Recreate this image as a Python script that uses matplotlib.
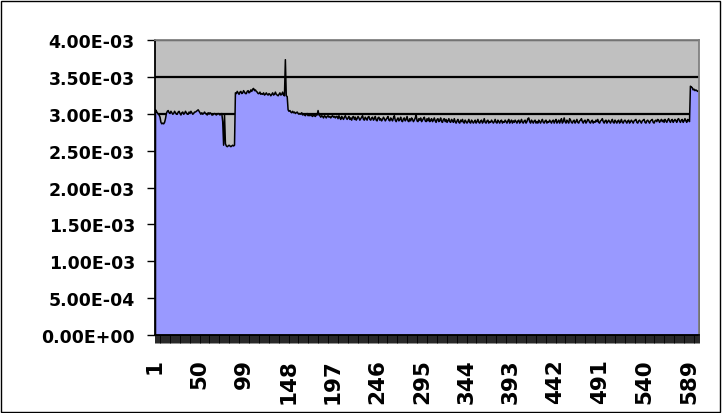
import matplotlib.pyplot as plt
from matplotlib.patches import Rectangle
from matplotlib.ticker import FuncFormatter, FixedLocator

# values in units of 1e-5
rate = [
    306, 304, 302, 300, 299, 296, 289, 287, 288, 287, 289, 294, 301, 304,
    305, 302, 301, 304, 302, 300, 301, 304, 302, 300,
    300, 303, 304, 301, 299, 302, 303, 300, 301, 304,
    302, 300, 300, 303, 301, 304, 302, 300, 301, 303,
    303, 304, 305, 306, 304, 302, 300, 302, 300, 301,
    303, 301, 300, 299, 302, 300, 302, 301, 299, 299,
    300, 301, 300, 299, 300, 301, 300, 299, 300, 301,
    290, 258, 299, 260, 257, 256, 257, 258, 257, 256, 257, 258, 257, 258,
    329, 328, 331, 329, 327, 330, 331, 328, 329, 332,
    330, 328, 328, 331, 332, 329, 330, 333, 331, 334,
    335, 332, 333, 331, 330, 328, 328, 330, 327, 328,
    327, 329, 326, 327, 329, 327, 326, 328, 327, 325,
    327, 329, 326, 327, 330, 327, 326, 325, 327, 329,
    326, 327, 330, 326, 325,
    374, 325, 324,
    306, 304, 305, 303, 302, 304, 302, 303, 301, 302, 303, 301, 300, 301,
    300, 302, 299, 300, 299, 298, 300, 301, 298, 299, 298, 300, 298, 297, 299, 298, 297, 299, 299, 305,
    299, 298, 296, 298, 297, 295, 298, 297, 295, 297, 298, 296, 297, 295, 297, 298, 296, 297, 295, 297,
    297, 294, 298, 295, 293, 297, 295, 293, 296, 298, 295, 293, 295, 297, 293, 295, 292, 296, 297, 293,
    296, 292, 294, 297, 295, 292, 294, 296, 298, 293, 292, 296, 294, 292, 296, 297, 293, 292, 295, 296,
    292, 294, 297, 292, 291, 295, 296, 292, 294, 291, 293, 296, 294, 291, 293, 295, 297, 292, 291, 295,
    293, 291, 295, 298, 292, 290, 293, 295, 291, 293, 296, 291, 290, 294, 295, 291, 293, 297, 291, 290,
    294, 291, 295, 293, 290, 292, 295, 299, 291, 290, 294, 292, 295, 290, 292, 294, 296, 291, 290, 294,
    291, 295, 290, 292, 294, 290, 292, 295, 291, 289, 293, 294, 290, 292, 295, 290, 289, 293, 294, 290,
    293, 289, 291, 294, 290, 289, 293, 291, 289, 294, 290, 288, 291, 293, 289, 288, 292, 290, 293, 289,
    288, 292, 290, 288, 290, 293, 289, 288, 292, 290, 288, 290, 292, 288, 290, 293, 289, 288, 291, 292,
    288, 290, 294, 289, 288, 291, 292, 288, 290, 289, 292, 290, 288, 290, 293, 289, 288, 292, 290, 288,
    291, 292, 288, 290, 289, 292, 290, 288, 291, 293, 288, 290, 292, 288, 291, 289, 292, 290, 288, 291,
    292, 288, 290, 293, 289, 288, 291, 292, 288, 290, 294, 295, 290, 288, 292, 290, 288, 291, 292, 288,
    290, 288, 292, 290, 288, 291, 293, 289, 288, 291, 292, 288, 290, 289, 292, 290, 288, 291, 292, 288,
    291, 293, 288, 290, 292, 288, 291, 294, 288, 290, 295, 290, 288, 292, 290, 288, 294, 292, 289,
    288, 291, 292, 288, 290, 293, 289, 288, 291, 292, 294, 290, 288, 291, 292, 288, 290, 293, 292, 289,
    288, 291, 292, 288, 290, 289, 292, 290, 293, 289, 288, 291, 292, 294, 290, 288, 291, 292, 288, 290,
    292, 290, 288, 291, 293, 289, 288, 292, 290, 288, 291, 292, 288, 290, 293, 289, 288, 291, 292, 290,
    288, 291, 292, 288, 290, 292, 290, 288, 291, 292, 293, 289, 288, 291, 292, 290, 288, 291, 292, 293,
    289, 288, 291, 292, 290, 288, 291, 292, 293, 289, 288, 291, 292, 290, 293, 292, 289, 291, 293, 290,
    292, 289, 293, 291, 289, 292, 294, 291, 289, 292, 293, 289, 291, 293, 291, 289, 293, 294, 291, 289,
    292, 293, 289, 291, 294, 291, 289, 293, 292, 290,
    338, 337, 336, 333, 334, 332, 333, 332, 331, 332, 330,
]
scale = 1e-5
x = list(range(1, len(rate) + 1))
y = [v * scale for v in rate]
label_step = 49
y_ticks = [i * 0.5e-3 for i in range(9)]

fig = plt.figure(figsize=(7.22, 4.14), dpi=100)
ax = fig.add_axes([155 / 722, 1 - 336 / 414, 544 / 722, 295 / 414])
ax.set_facecolor('#C0C0C0')

ax.fill_between(x, y, 0, facecolor='#9999FF', edgecolor='black', linewidth=1.1, zorder=2)

ax.set_xlim(1, len(rate))
ax.set_ylim(0, 4e-3)
ax.set_yticks(y_ticks)
ax.yaxis.set_major_formatter(FuncFormatter(lambda v, p: f"{v:.2E}"))
ax.yaxis.grid(True, color='black', linewidth=1.6)
ax.set_axisbelow(True)

ax.xaxis.set_major_locator(FixedLocator(x[::label_step]))
ax.xaxis.set_minor_locator(FixedLocator(x))
ax.set_xticklabels([str(v) for v in x[::label_step]], rotation=90)

for lab in ax.get_yticklabels():
    lab.set_fontweight('bold')
    lab.set_fontsize(12.5)
for lab in ax.get_xticklabels():
    lab.set_fontweight('bold')
    lab.set_fontsize(15.5)

ax.tick_params(axis='y', direction='out', length=6, width=1, pad=8.5)
ax.tick_params(axis='x', which='both', direction='out', length=5.5, width=0.6, pad=11)

for s in ['left', 'bottom']:
    ax.spines[s].set_color('black')
    ax.spines[s].set_linewidth(1.3)
for s in ['top', 'right']:
    ax.spines[s].set_color('#808080')
    ax.spines[s].set_linewidth(1.3)

fig.patches.append(Rectangle((0.002, 0.003), 0.995, 0.993, transform=fig.transFigure,
                             fill=False, edgecolor='black', linewidth=1.0))

fig.savefig('out.png', dpi=100)
